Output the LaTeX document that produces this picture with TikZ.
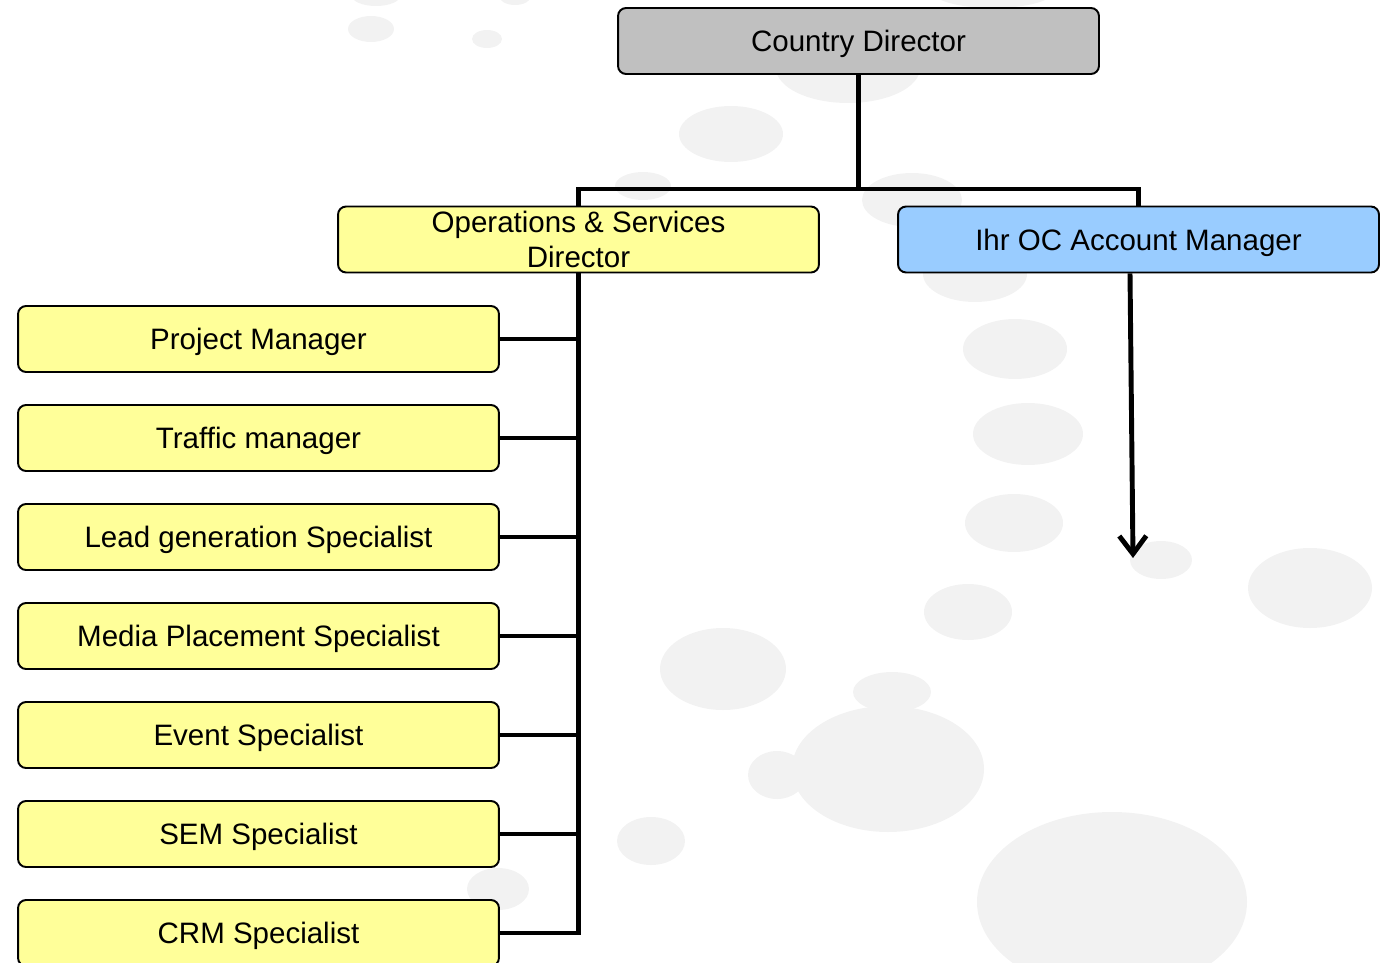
\documentclass[tikz,border=0pt]{standalone}
\usepackage{fontspec}
\setmainfont{Liberation Sans}
\usetikzlibrary{arrows.meta}
\definecolor{boxyellow}{HTML}{FFFF99}
\definecolor{boxblue}{HTML}{99CCFF}
\definecolor{boxgray}{HTML}{C0C0C0}
\definecolor{bubble}{HTML}{F2F2F2}
\tikzset{
  orgbox/.style={draw=black, line width=1.1pt, rounded corners=0.16cm,
    minimum width=9.62cm, minimum height=1.32cm, inner sep=0pt,
    font=\fontsize{16.8}{19.5}\selectfont, align=center},
  onebox/.style={orgbox, text depth=0pt},
  link/.style={line width=2.8pt, line join=miter},
  bub/.style={fill=bubble, draw=none}
}
\begin{document}
\begin{tikzpicture}[x=0.02cm, y=-0.02cm]
\useasboundingbox (0,0) rectangle (1382,963);
\clip (0,0) rectangle (1382,963);
% background bubbles
\fill[bub] (376,-4) ellipse [x radius=24, y radius=10];
\fill[bub] (515,-4) ellipse [x radius=16, y radius=9];
\fill[bub] (371,29) ellipse [x radius=23, y radius=13];
\fill[bub] (487,39) ellipse [x radius=15, y radius=9];
\fill[bub] (848,68) ellipse [x radius=72, y radius=35];
\fill[bub] (993,-8) ellipse [x radius=60, y radius=16];
\fill[bub] (731,134) ellipse [x radius=52, y radius=28];
\fill[bub] (643,186) ellipse [x radius=28, y radius=14];
\fill[bub] (912,200) ellipse [x radius=50, y radius=27];
\fill[bub] (975,274) ellipse [x radius=52, y radius=28];
\fill[bub] (1015,349) ellipse [x radius=52, y radius=30];
\fill[bub] (1028,434) ellipse [x radius=55, y radius=31];
\fill[bub] (1014,523) ellipse [x radius=49, y radius=29];
\fill[bub] (1161,560) ellipse [x radius=31, y radius=19];
\fill[bub] (968,612) ellipse [x radius=44, y radius=28];
\fill[bub] (1310,588) ellipse [x radius=62, y radius=40];
\fill[bub] (723,669) ellipse [x radius=63, y radius=41];
\fill[bub] (888,769) ellipse [x radius=96, y radius=63];
\fill[bub] (892,692) ellipse [x radius=39, y radius=20];
\fill[bub] (777,775) ellipse [x radius=29, y radius=24];
\fill[bub] (651,841) ellipse [x radius=34, y radius=24];
\fill[bub] (1112,902) ellipse [x radius=135, y radius=90];
\fill[bub] (498,889) ellipse [x radius=31, y radius=21];
% boxes
\node[onebox, fill=boxgray] (cd) at (858.5,41) {Country Director};
\node[orgbox, fill=boxyellow] (ops) at (578.5,239.5) {Operations \& Services\\Director};
\node[onebox, fill=boxblue] (ihr) at (1138.5,239.5) {Ihr OC Account Manager};
\node[onebox, fill=boxyellow] (pm) at (258.5,339) {Project Manager};
\node[onebox, fill=boxyellow] (tm) at (258.5,438) {Traffic manager};
\node[onebox, fill=boxyellow] (lg) at (258.5,537) {Lead generation Specialist};
\node[onebox, fill=boxyellow] (mp) at (258.5,636) {Media Placement Specialist};
\node[onebox, fill=boxyellow] (ev) at (258.5,735) {Event Specialist};
\node[onebox, fill=boxyellow] (sem) at (258.5,834) {SEM Specialist};
\node[onebox, fill=boxyellow] (crm) at (258.5,933) {CRM Specialist};
% connectors
\coordinate (jt) at (858.5,189);
\coordinate (arrowend) at (1133,558);
\draw[link] (cd.south) -- (jt);
\draw[link] (ops.north) |- (jt) -| (ihr.north);
\draw[link] (ops.south) |- (crm.east);
\foreach \n in {pm,tm,lg,mp,ev,sem}{
  \draw[link] (\n.east) -- (\n.east -| ops.south);
}
\draw[link, -{Straight Barb[length=0.36cm,width=0.54cm]}] ([xshift=-0.17cm]ihr.south) -- (arrowend);
\end{tikzpicture}
\end{document}
